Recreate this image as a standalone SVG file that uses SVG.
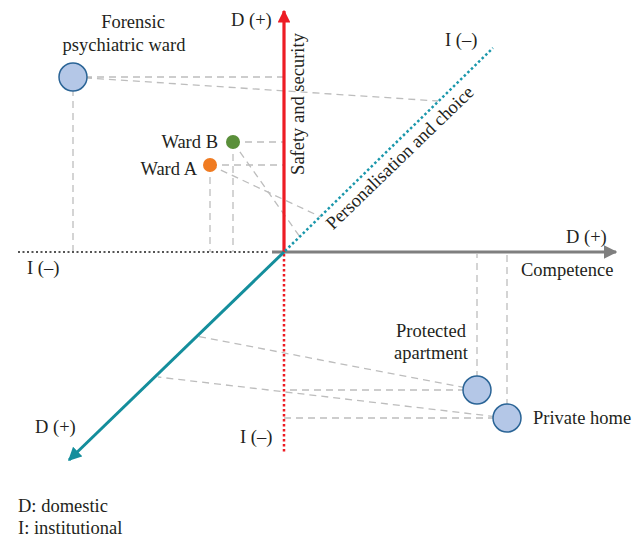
<svg xmlns="http://www.w3.org/2000/svg" width="642" height="537" viewBox="0 0 642 537">
<style>
text{font-family:"Liberation Serif","DejaVu Serif",serif;font-size:18.5px;fill:#231f20}
.dash{stroke:#bdbdbd;stroke-width:1.3;stroke-dasharray:7 5;fill:none}
.big{fill:#b4c7e7;stroke:#2a6496;stroke-width:1.5}
</style>
<defs>
<marker id="ar" viewBox="0 0 10 10" refX="9" refY="5" markerWidth="4" markerHeight="4" orient="auto"><path d="M0,0 L10,5 L0,10 z" fill="#ed1c24"/></marker>
<marker id="ag" viewBox="0 0 10 10" refX="9" refY="5" markerWidth="4.5" markerHeight="4.5" orient="auto"><path d="M0,0 L10,5 L0,10 z" fill="#7f7f7f"/></marker>
<marker id="at" viewBox="0 0 10 10" refX="9" refY="5" markerWidth="4.5" markerHeight="4.5" orient="auto"><path d="M0,0 L10,5 L0,10 z" fill="#148e9c"/></marker>
</defs>
<g id="connectors">
<path class="dash" d="M73,77 H284 M73,77 L438,101 M73,77 V252"/>
<path class="dash" d="M233,142 H284 M233,142 V252 M233,142 L300,237"/>
<path class="dash" d="M210,165 H284 M210,165 V252 M210,165 L321,217"/>
<path class="dash" d="M477,390 V254 M477,390 H284 M477,390 L196,336"/>
<path class="dash" d="M507,418 V254 M507,418 H284 M507,418 L158,377"/>
<line x1="18" y1="252" x2="270" y2="252" stroke="#555" stroke-width="2" stroke-dasharray="2 2.5"/>
<line x1="272" y1="252" x2="616" y2="252" stroke="#7f7f7f" stroke-width="3" marker-end="url(#ag)"/>
<line x1="284" y1="254" x2="284" y2="452" stroke="#ed1c24" stroke-width="2.5" stroke-dasharray="2.5 2.5"/>
<line x1="284" y1="252" x2="284" y2="11" stroke="#ed1c24" stroke-width="3.2" marker-end="url(#ar)"/>
<line x1="285" y1="251" x2="493" y2="48" stroke="#1a97ab" stroke-width="2.5" stroke-dasharray="2.5 2.5"/>
<line x1="284" y1="252" x2="69" y2="460" stroke="#148e9c" stroke-width="3" marker-end="url(#at)"/>
</g>
<g id="forensic"><circle class="big" cx="73" cy="77" r="14"/><text x="133" y="28" text-anchor="middle">Forensic</text><text x="124" y="51" text-anchor="middle">psychiatric ward</text></g>
<g id="wardB"><circle cx="233" cy="142" r="7" fill="#5a8f3a"/><text x="218" y="148" text-anchor="end">Ward B</text></g>
<g id="wardA"><circle cx="210" cy="165" r="7" fill="#f07b21"/><text x="197" y="175" text-anchor="end">Ward A</text></g>
<g id="protected"><circle class="big" cx="477" cy="390" r="14"/><text x="431" y="337" text-anchor="middle">Protected</text><text x="431" y="359" text-anchor="middle">apartment</text></g>
<g id="private"><circle class="big" cx="507" cy="418" r="14"/><text x="533" y="424">Private home</text></g>
<g id="labels">
<text x="231" y="26">D (+)</text>
<text x="445" y="46">I (–)</text>
<text x="566" y="243">D (+)</text>
<text x="521" y="276">Competence</text>
<text x="27" y="274">I (–)</text>
<text x="35" y="433">D (+)</text>
<text x="240" y="443">I (–)</text>
<text transform="translate(304,104) rotate(-90)" text-anchor="middle">Safety and security</text>
<text transform="translate(404,162) rotate(-44)" text-anchor="middle">Personalisation and choice</text>
<text x="18" y="512">D: domestic</text>
<text x="18" y="534">I: institutional</text>
</g>
</svg>
